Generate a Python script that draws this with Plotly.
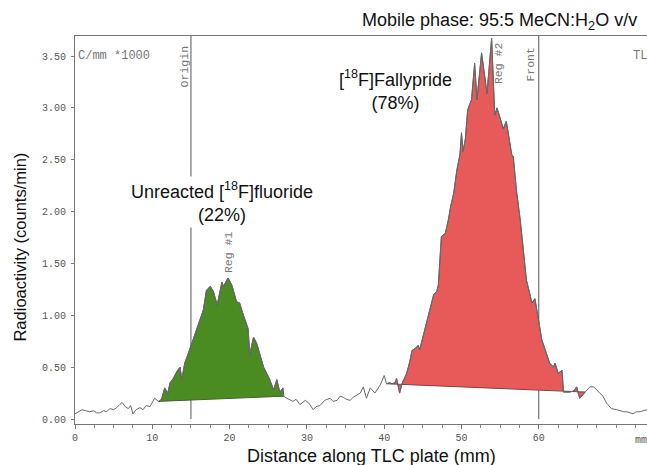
import numpy as np
import plotly.graph_objects as go

# ---------------- data ----------------
dist_mm = [0.0, 0.4, 0.9, 1.4, 1.9, 2.4, 2.8, 3.2, 3.7, 4.1, 4.5, 5.0, 5.4, 5.8, 6.1, 6.5, 6.9, 7.2, 7.5, 7.9,
           8.4, 8.8, 9.2, 9.7, 10.3, 10.8, 11.2, 11.6, 12.0, 12.3, 12.7, 13.2, 13.6, 13.8, 14.2, 14.6, 15.1, 15.5,
           16.0, 16.6, 17.0, 17.5, 17.9, 18.4, 19.0, 19.2, 19.8, 20.3, 20.9, 21.3, 21.7, 22.0, 22.4, 22.6, 23.1,
           23.5, 24.0, 24.4, 24.8, 25.2, 25.7, 26.1, 26.5, 26.9, 27.0, 27.4, 28.2, 28.6, 29.1, 29.8, 30.3, 30.8,
           31.2, 31.7, 32.3, 33.0, 33.4, 33.9, 34.3, 34.7, 35.1, 35.6, 36.0, 36.4, 36.9, 37.3, 37.7, 38.2, 38.8,
           39.5, 40.0, 40.3, 40.7, 41.0, 41.4, 41.6, 42.0, 42.3, 42.9, 43.3, 43.6, 44.0, 44.4, 44.6, 45.1, 45.7,
           46.4, 46.8, 47.0, 47.4, 47.9, 48.3, 48.6, 49.0, 49.4, 49.8, 50.0, 50.2, 50.5, 50.8, 51.3, 51.7, 52.0,
           52.6, 53.0, 53.3, 53.9, 54.3, 54.6, 55.0, 55.4, 55.8, 56.2, 56.5, 56.7, 57.1, 57.6, 58.0, 58.4, 58.8,
           59.1, 59.5, 59.9, 60.4, 61.0, 61.4, 61.9, 62.1, 62.5, 63.0, 63.2, 64.0, 64.5, 64.9, 65.1, 65.3, 66.0,
           66.6, 67.1, 67.5, 68.3, 68.8, 69.4, 70.1, 70.6, 71.0, 71.4, 71.8, 72.2, 72.6, 73.1, 73.5, 74.0]
counts_k = [0.05, 0.07, 0.09, 0.08, 0.07, 0.08, 0.06, 0.06, 0.08, 0.07, 0.10, 0.09, 0.11, 0.14, 0.16, 0.12, 0.10,
            0.13, 0.05, 0.09, 0.11, 0.09, 0.13, 0.12, 0.20, 0.17, 0.19, 0.30, 0.25, 0.35, 0.39, 0.46, 0.50, 0.38,
            0.54, 0.62, 0.73, 0.83, 0.94, 1.05, 1.24, 1.28, 1.23, 1.10, 1.32, 1.28, 1.36, 1.29, 1.13, 1.12, 1.02,
            0.95, 0.87, 0.62, 0.79, 0.73, 0.60, 0.50, 0.44, 0.38, 0.28, 0.38, 0.26, 0.30, 0.22, 0.20, 0.17, 0.19,
            0.14, 0.18, 0.15, 0.09, 0.12, 0.13, 0.18, 0.20, 0.17, 0.18, 0.22, 0.21, 0.19, 0.18, 0.21, 0.23, 0.25,
            0.31, 0.20, 0.30, 0.25, 0.33, 0.42, 0.34, 0.35, 0.34, 0.35, 0.39, 0.25, 0.34, 0.44, 0.55, 0.66, 0.68,
            0.71, 0.67, 0.81, 0.99, 1.20, 1.23, 1.29, 1.76, 1.79, 1.92, 2.05, 2.18, 2.40, 2.55, 2.76, 2.58, 2.70,
            2.98, 3.08, 3.43, 3.08, 3.53, 3.30, 3.14, 3.67, 2.93, 3.00, 2.90, 2.80, 2.87, 2.70, 2.55, 2.53, 2.21,
            1.92, 1.60, 1.34, 1.22, 1.12, 1.16, 0.99, 0.76, 0.63, 0.54, 0.50, 0.54, 0.44, 0.47, 0.26, 0.26, 0.27,
            0.31, 0.25, 0.20, 0.26, 0.31, 0.31, 0.28, 0.22, 0.15, 0.10, 0.09, 0.08, 0.07, 0.07, 0.06, 0.05, 0.07,
            0.07, 0.08, 0.09]

region_names = ["Reg #1", "Reg #2"]
region_start_mm = [10.8, 40.3]
region_end_mm = [27.0, 66.0]
region_colors = ["#4b8c22", "#e85a5a"]

origin_mm = 15
front_mm = 60

x_tick_vals = [0, 10, 20, 30, 40, 50, 60]
x_tick_text = ["0", "10", "20", "30", "40", "50", "60"]
y_tick_vals = [0.0, 0.5, 1.0, 1.5, 2.0, 2.5, 3.0, 3.5]
y_tick_text = ["0.00", "0.50", "1.00", "1.50", "2.00", "2.50", "3.00", "3.50"]

# ---------------- figure ----------------
x = np.array(dist_mm)
y = np.array(counts_k)

MONO = "Liberation Mono, Courier New, monospace"
SANS = "Liberation Sans, Arial, sans-serif"
TRACE_GRAY = "#6a6a6a"

fig = go.Figure()

for name, s, e, col in zip(region_names, region_start_mm, region_end_mm, region_colors):
    ys = float(np.interp(s, x, y))
    ye = float(np.interp(e, x, y))
    fig.add_trace(go.Scatter(x=[s, e], y=[ys, ye], mode="lines",
                             line=dict(color="#555555", width=1), hoverinfo="skip", showlegend=False))
    m = (x >= s) & (x <= e)
    fig.add_trace(go.Scatter(x=x[m], y=y[m], mode="lines", fill="tonexty", fillcolor=col,
                             line=dict(color="#444444", width=0.8), name=name, showlegend=False))

fig.add_trace(go.Scatter(x=x, y=y, mode="lines", line=dict(color=TRACE_GRAY, width=1),
                         showlegend=False, name="trace"))

# origin / front lines
for xv in (origin_mm, front_mm):
    fig.add_shape(type="line", xref="x", yref="y", x0=xv, x1=xv, y0=0, y1=3.75,
                  line=dict(color="#555555", width=1), layer="below")

small = dict(family=MONO, size=11.5, color="#777777")
fig.add_annotation(x=14.1, y=3.40, text="Origin", textangle=-90, showarrow=False, font=small)
fig.add_annotation(x=58.9, y=3.42, text="Front", textangle=-90, showarrow=False, font=small)
fig.add_annotation(x=19.8, y=1.61, text="Reg #1", textangle=-90, showarrow=False, font=small)
fig.add_annotation(x=54.7, y=3.43, text="Reg #2", textangle=-90, showarrow=False, font=small)
fig.add_annotation(xref="paper", yref="paper", x=0.002, y=0.972, xanchor="left", yanchor="top",
                   text="C/mm *1000", showarrow=False, font=dict(family=MONO, size=12, color="#777777"))
fig.add_annotation(xref="paper", yref="paper", x=0.972, y=0.972, xanchor="left", yanchor="top",
                   text="TLC", showarrow=False, font=dict(family=MONO, size=12, color="#777777"))
fig.add_annotation(x=73.2, xref="x", yref="paper", y=-0.023, xanchor="center", yanchor="top", text="mm",
                   showarrow=False, font=dict(family=MONO, size=10, color="#555555"))

big = dict(family=SANS, size=18, color="#111111")
fig.add_annotation(x=19.05, y=2.09, text="Unreacted [<sup>18</sup>F]fluoride<br>(22%)", showarrow=False,
                   font=big, bgcolor="white", borderpad=2, xanchor="center", yanchor="middle")
fig.add_annotation(x=41.4, y=3.17, text="[<sup>18</sup>F]Fallypride<br>(78%)", showarrow=False, font=big,
                   xanchor="center", yanchor="middle")
fig.add_annotation(xref="paper", yref="paper", x=0.743, y=1.037, xanchor="center", yanchor="middle",
                   text="Mobile phase: 95:5 MeCN:H<sub>2</sub>O v/v", showarrow=False, font=big)

fig.add_annotation(xref="paper", yref="paper", x=0.519, y=-0.082, xanchor="center", yanchor="middle",
                   text="Distance along TLC plate (mm)",
                   showarrow=False, font=dict(family=SANS, size=18, color="#111111"))
fig.add_annotation(xref="paper", yref="paper", x=-0.096, y=0.455, xanchor="center", yanchor="middle",
                   text="Radioactivity (counts/min)",
                   textangle=-90, showarrow=False, font=dict(family=SANS, size=16.5, color="#111111"))

fig.update_layout(
    width=647, height=465,
    margin=dict(l=75, r=0, t=36, b=41),
    paper_bgcolor="white", plot_bgcolor="white",
    xaxis=dict(range=[0, 74], tickvals=x_tick_vals, ticktext=x_tick_text, showgrid=False, zeroline=False,
               showline=True, linecolor="#777777", linewidth=1, mirror=True,
               ticks="outside", ticklen=4, tickcolor="#777777",
               minor=dict(dtick=2.5, ticks="outside", ticklen=3, tickcolor="#888888"),
               tickfont=dict(family=MONO, size=10, color="#555555")),
    yaxis=dict(range=[-0.048, 3.693], tickvals=y_tick_vals, ticktext=y_tick_text, showgrid=False,
               zeroline=False, showline=True, linecolor="#777777", linewidth=1,
               ticks="outside", ticklen=3, tickcolor="#777777", ticklabelstandoff=3,
               tickfont=dict(family=MONO, size=10, color="#555555")),
)

fig.write_html("out.html", config={"displayModeBar": False},
               post_script="document.body.style.margin='0';")
